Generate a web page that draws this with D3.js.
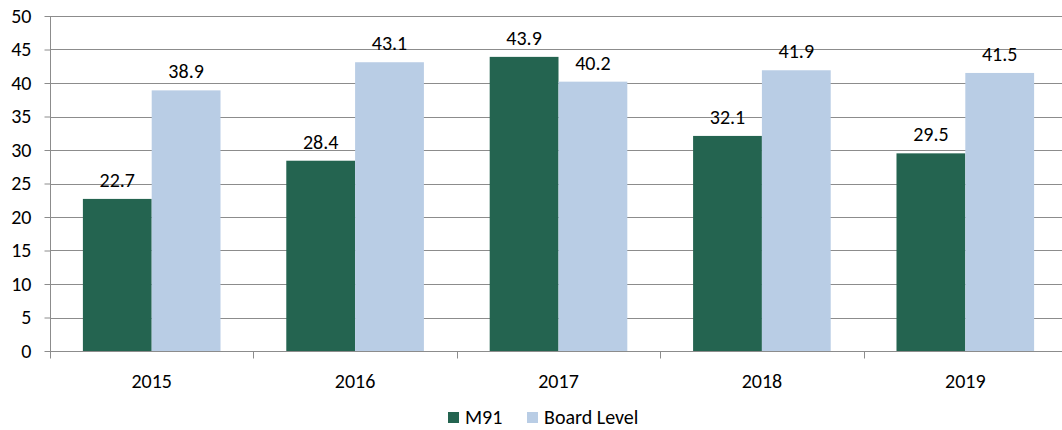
<!DOCTYPE html>
<html>
<head>
<meta charset="utf-8">
<script src="https://cdn.jsdelivr.net/npm/d3@7"></script>
<style>
  body { margin: 0; background: #fff; overflow: hidden; }
  svg text { font-family: Carlito, Calibri, "Liberation Sans", "Noto Sans", sans-serif; fill: #000; }
</style>
</head>
<body>
<svg id="chart" width="1062" height="430"></svg>
<script>
// Years shown along the bottom axis
const years = ["2015", "2016", "2017", "2018", "2019"];
// Series values per year
const m91 = [22.7, 28.4, 43.9, 32.1, 29.5];
const boardLevel = [38.9, 43.1, 40.2, 41.9, 41.5];
const seriesNames = ["M91", "Board Level"];
const seriesColors = ["#246450", "#b9cde5"];
const yTicks = [0, 5, 10, 15, 20, 25, 30, 35, 40, 45, 50];

const FS = 20;
const svg = d3.select("#chart");
// the plot runs slightly past the right edge of the canvas
const margin = { left: 50, top: 16 };
const plotW = 1017;
const plotH = 335;

const g = svg.append("g").attr("transform", `translate(${margin.left},${margin.top})`);

const x0 = d3.scaleBand().domain(years).range([0, plotW]).paddingInner(0).paddingOuter(0);
const x1 = d3.scaleBand().domain(seriesNames).range([0, x0.bandwidth()]).paddingInner(0).paddingOuter(0.478);
const y = d3.scaleLinear().domain([0, 50]).range([plotH, 0]);

// horizontal gridlines
g.append("g").selectAll("line").data(yTicks.filter(d => d > 0)).join("line")
  .attr("x1", 0).attr("x2", plotW)
  .attr("y1", d => Math.round(y(d)) + 0.5).attr("y2", d => Math.round(y(d)) + 0.5)
  .attr("stroke", "#8c8c8c").attr("stroke-width", 1);

// y axis
const yAxis = d3.axisLeft(y).tickValues(yTicks).tickSize(6).tickPadding(13).tickFormat(d3.format("d"));
const yg = g.append("g").attr("transform", "translate(0.5,0)").call(yAxis);
yg.select(".domain").attr("stroke", "#8c8c8c").attr("d", `M0,${plotH}V0`);
yg.selectAll(".tick line").attr("stroke", "#8c8c8c");
yg.selectAll(".tick text").attr("font-size", FS).attr("font-family", null);

// bars
const data = years.map((yr, i) => ({ year: yr, vals: [m91[i], boardLevel[i]] }));
const groups = g.append("g").selectAll("g").data(data).join("g")
  .attr("transform", d => `translate(${x0(d.year)},0)`);

groups.selectAll("rect").data(d => d.vals.map((v, k) => ({ v, k, s: seriesNames[k] }))).join("rect")
  .attr("x", d => x1(d.s))
  .attr("width", x1.bandwidth())
  .attr("y", d => y(d.v))
  .attr("height", d => plotH - y(d.v))
  .attr("fill", d => seriesColors[d.k]);

groups.selectAll("text.val").data(d => d.vals.map((v, k) => ({ v, k, s: seriesNames[k] }))).join("text")
  .attr("class", "val")
  .attr("x", d => x1(d.s) + x1.bandwidth() / 2)
  .attr("y", d => y(d.v) - 12)
  .attr("text-anchor", "middle")
  .attr("font-size", FS)
  .text(d => d3.format(".1f")(d.v));

// x axis
const xg = g.append("g").attr("transform", `translate(0,${plotH + 0.5})`);
xg.append("line").attr("x1", 0).attr("x2", plotW).attr("stroke", "#8c8c8c");
const boundaries = years.map(yr => x0(yr)).concat([plotW]);
xg.selectAll("line.tick").data(boundaries).join("line").attr("class", "tick")
  .attr("x1", d => Math.round(d) + 0.5).attr("x2", d => Math.round(d) + 0.5)
  .attr("y1", 0).attr("y2", 7).attr("stroke", "#8c8c8c");
xg.selectAll("text").data(years).join("text")
  .attr("x", d => x0(d) + x0.bandwidth() / 2)
  .attr("y", 36)
  .attr("text-anchor", "middle")
  .attr("font-size", FS)
  .text(d => d);

// legend
const legend = svg.append("g").attr("transform", "translate(448,412)");
const items = [{ name: seriesNames[0], x: 0 }, { name: seriesNames[1], x: 79 }];
items.forEach((it, k) => {
  legend.append("rect").attr("x", it.x).attr("y", 0).attr("width", 11).attr("height", 11).attr("fill", seriesColors[k]);
  legend.append("text").attr("x", it.x + 17).attr("y", 12).attr("font-size", FS).text(it.name);
});
</script>
</body>
</html>
